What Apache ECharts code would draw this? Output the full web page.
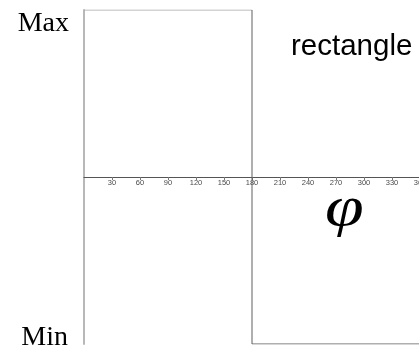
<!DOCTYPE html>
<html>
<head>
<meta charset="utf-8">
<script src="https://cdn.jsdelivr.net/npm/echarts@6/dist/echarts.min.js"></script>
<style>
  html, body { margin: 0; padding: 0; background: #ffffff; }
  #chart { width: 419px; height: 351px; }
</style>
</head>
<body>
<div id="chart"></div>
<script>
// Rectangular wave over one period (phase in degrees, normalized level)
var highPhase = [0, 180];
var highLevel = [1, 1];
var lowPhase = [180, 180, 360];
var lowLevel = [1, -1, -1];
var phaseTicks = [30, 60, 90, 120, 150, 180, 210, 240, 270, 300, 330, 360];
var levelNames = { max: 'Max', min: 'Min' };
var waveName = 'rectangle';
var phaseSymbol = '\u03C6';

function pairs(xs, ys) {
  return xs.map(function (x, i) { return [x, ys[i]]; });
}

var chart = echarts.init(document.getElementById('chart'), null, { renderer: 'canvas' });

chart.setOption({
  animation: false,
  backgroundColor: '#ffffff',
  grid: { left: 84, top: 10, width: 336, height: 334, containLabel: false, outerBoundsMode: 'none' },
  xAxis: {
    type: 'value',
    position: 'bottom',
    offset: -167,
    min: 0,
    max: 360,
    interval: 30,
    splitLine: { show: false },
    axisLine: { onZero: false, lineStyle: { color: '#555555', width: 1 } },
    axisTick: { show: true, length: 3, inside: false, lineStyle: { color: '#777777' } },
    axisLabel: {
      showMinLabel: false,
      showMaxLabel: true,
      hideOverlap: false,
      margin: 2,
      color: '#4a4a4a',
      fontSize: 7.5,
      fontFamily: '"Liberation Sans Narrow", "Liberation Sans", Arial, sans-serif',
      formatter: function (v) { return phaseTicks.indexOf(v) >= 0 ? String(v) : ''; }
    }
  },
  yAxis: {
    type: 'value',
    min: -1,
    max: 1,
    interval: 1,
    splitLine: { show: false },
    axisLine: { show: true, onZero: false, lineStyle: { color: '#b8b8b8', width: 2 } },
    axisTick: { show: false },
    axisLabel: { show: false }
  },
  series: [
    {
      type: 'line',
      data: pairs(highPhase, highLevel),
      symbol: 'none',
      lineStyle: { color: '#a8a8a8', width: 1 },
      silent: true
    },
    {
      type: 'line',
      data: pairs(lowPhase, lowLevel),
      symbol: 'none',
      lineStyle: { color: '#5e5e5e', width: 1 },
      silent: true
    }
  ],
  graphic: [
    {
      type: 'text', right: 419 - 69, top: 10,
      style: { text: levelNames.max, fill: '#000', font: '28px "Liberation Serif", "Times New Roman", serif' }
    },
    {
      type: 'text', right: 419 - 68, top: 324,
      style: { text: levelNames.min, fill: '#000', font: '28px "Liberation Serif", "Times New Roman", serif' }
    },
    {
      type: 'text', left: 291, top: 32,
      style: { text: waveName, fill: '#000', font: '29.5px "Liberation Sans", Arial, sans-serif' }
    },
    {
      type: 'text', x: 325, y: 182, scaleX: 1.25,
      style: { text: phaseSymbol, fill: '#000', font: 'italic 56px "Liberation Serif", "Times New Roman", serif' }
    }
  ]
});
</script>
</body>
</html>
